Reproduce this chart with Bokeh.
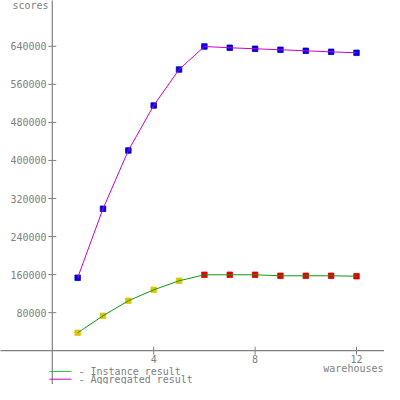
from bokeh.plotting import figure
from bokeh.embed import file_html
from bokeh.resources import INLINE
from bokeh.models import Range1d, ColumnDataSource
from bokeh.core.properties import value

# ---- data ----
warehouses = [1, 2, 3, 4, 5, 6, 7, 8, 9, 10, 11, 12]
instance_result = [37600, 73400, 104900, 128000, 147000, 159600, 159600, 159600, 157500, 157500, 157500, 156600]
aggregated_result = [153300, 298400, 420900, 515500, 591200, 639600, 636900, 634800, 632700, 630500, 628400, 626300]
expected_peak = 6
x_ticks = [4, 8, 12]
y_ticks = [80000, 160000, 240000, 320000, 400000, 480000, 560000, 640000]
y_ticks_unlabeled = [-80000]
x_title = "warehouses"
y_title = "scores"
legend_labels = ["- Instance result", "- Aggregated result"]

# ---- styles ----
GRAY = "#808080"
FONT = value("DejaVu Sans Mono")
FS = "10px"

W = H = 384
X0, XS = 51.8, 25.35           # px of x=0, px per unit
Y0, YS = 350.2, 38.05 / 80000  # px of y=0, px per unit


def xd(px):
    return (px - X0) / XS


def yd(py):
    return (Y0 - py) / YS


p = figure(width=W, height=H, output_backend="svg", toolbar_location=None,
           x_range=Range1d(xd(0), xd(W)), y_range=Range1d(yd(H), yd(0)),
           x_axis_type=None, y_axis_type=None, min_border=0,
           outline_line_color=None, background_fill_color="white")
p.xgrid.visible = False
p.ygrid.visible = False

# axes crossing at origin
xmin, xmax = xd(-2), xd(W + 2)
ymin, ymax = yd(H + 2), yd(-2)
p.segment(x0=[xmin], y0=[0], x1=[xmax], y1=[0], line_color=GRAY, line_width=1.2)
p.segment(x0=[0], y0=[ymin], x1=[0], y1=[ymax], line_color=GRAY, line_width=1.2)

# y ticks
tick_dx = 4 / XS
all_yt = y_ticks + y_ticks_unlabeled
p.segment(x0=[-tick_dx] * len(all_yt), y0=all_yt, x1=[tick_dx] * len(all_yt), y1=all_yt,
          line_color=GRAY, line_width=1)
p.text(x=[xd(46)] * len(y_ticks), y=y_ticks, text=[str(v) for v in y_ticks],
       text_font=FONT, text_font_size=FS, text_color=GRAY,
       text_align="right", text_baseline="middle")

# x ticks
tick_dy = 4 / YS
p.segment(x0=x_ticks, y0=[-tick_dy] * len(x_ticks), x1=x_ticks, y1=[tick_dy] * len(x_ticks),
          line_color=GRAY, line_width=1)
p.text(x=x_ticks, y=[yd(354)] * len(x_ticks), text=[str(v) for v in x_ticks],
       text_font=FONT, text_font_size=FS, text_color=GRAY,
       text_align="center", text_baseline="top")

# axis titles
p.text(x=[xd(48)], y=[yd(-1)], text=[y_title], text_font=FONT, text_font_size=FS,
       text_color=GRAY, text_align="right", text_baseline="top")
p.text(x=[xd(383)], y=[yd(362)], text=[x_title], text_font=FONT, text_font_size=FS,
       text_color=GRAY, text_align="right", text_baseline="top")

# series
inst_colors = ["#e0c400" if w < expected_peak else "#e00000" for w in warehouses]
src_i = ColumnDataSource(dict(x=warehouses, y=instance_result, c=inst_colors))
src_a = ColumnDataSource(dict(x=warehouses, y=aggregated_result))

p.scatter("x", "y", source=src_a, marker="square", size=5.5,
          fill_color="#0000f0", line_color="#0000b0", line_width=0.8)
p.scatter("x", "y", source=src_i, marker="square", size=5.5,
          fill_color="c", line_color="c", line_width=0.8)
p.line("x", "y", source=src_a, line_color="#cc00cc", line_width=1)
p.line("x", "y", source=src_i, line_color="#109a10", line_width=1)

# legend (drawn manually to match layout)
leg_colors = ["#30cc30", "#cc00cc"]
leg_y = [371, 378.7]
p.segment(x0=[xd(49)] * 2, y0=[yd(v) for v in leg_y], x1=[xd(71)] * 2, y1=[yd(v) for v in leg_y],
          line_color=leg_colors, line_width=1)
p.text(x=[xd(78)] * 2, y=[yd(v) for v in leg_y], text=legend_labels,
       text_font=FONT, text_font_size=FS, text_color=GRAY,
       text_align="left", text_baseline="middle")

open("out.html", "w").write(file_html(p, INLINE))
